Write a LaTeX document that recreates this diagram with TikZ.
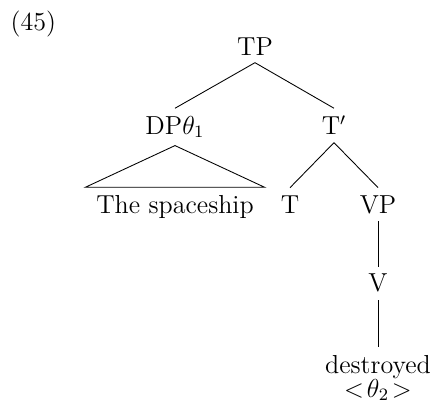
\documentclass[tikz,border=0pt]{standalone}
\usepackage{amsmath}
\usepackage{tikz}
\usetikzlibrary{positioning}

\begin{document}
\begin{tikzpicture}[lbl/.style={anchor=base, font=\large}, branch/.style={thin}]
  \useasboundingbox (0, 0) rectangle (7.015, -6.642);
  % Example number
  \node[anchor=base west, inner sep=0pt, font=\large] (num) at (0.165, -0.486) {(45)};

  % Tree nodes
  \node[lbl] (tp) at (4.131, -0.891) {TP};
  \node[lbl] (dp) at (2.835, -2.171) {DP$\theta_1$};
  \node[lbl] (tbar) at (5.411, -2.187) {T$'$};
  \node[lbl] (sp) at (2.835, -3.451) {The spaceship};
  \node[lbl] (t) at (4.698, -3.451) {T};
  \node[lbl] (vp) at (6.124, -3.451) {VP};
  \node[lbl] (v) at (6.124, -4.730) {V};
  \node[lbl, align=center] (destr) at (6.124, -6.432) {destroyed\\[-3pt]$<\!\theta_2\!>$};

  % Branches
  \draw[branch] (tp.south) -- (dp.north);
  \draw[branch] (tp.south) -- (tbar.north);
  \draw[branch] (dp.south) -- ([xshift=-1.5pt]sp.north west) -- ([xshift=1.5pt]sp.north east) -- cycle;
  \draw[branch] (tbar.south) -- (t.north);
  \draw[branch] (tbar.south) -- (vp.north);
  \draw[branch] (vp.south) -- (v.north);
  \draw[branch] (v.south) -- (destr.north);
\end{tikzpicture}
\end{document}
